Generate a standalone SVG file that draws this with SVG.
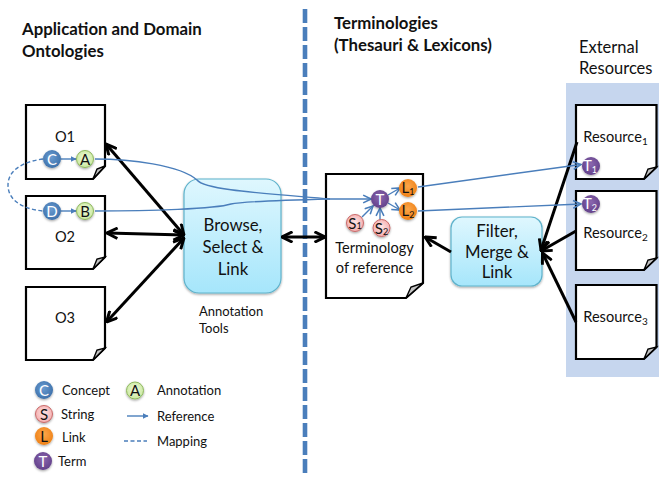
<svg xmlns="http://www.w3.org/2000/svg" width="659" height="479" viewBox="0 0 659 479">
<style>
text{font-family:Lato,"Liberation Sans",sans-serif;fill:#111}
.h{font-size:16.8px;font-weight:700}
.n{font-size:14.6px;text-anchor:middle}
.b{font-size:16.8px;text-anchor:middle}
.l{font-size:13px}
.c{font-size:15px;text-anchor:middle}
.w{fill:#fff}
.doc{fill:#fff;stroke:#000;stroke-width:2.2}
.fold{fill:#c4c4c4;stroke:#000;stroke-width:1.4}
.box{stroke:#5fb3cc;stroke-width:1.2;filter:url(#sh)}
.k{fill:none;stroke:#000;stroke-width:3;marker-start:url(#ka);marker-end:url(#ka)}
.k1{fill:none;stroke:#000;stroke-width:3;marker-end:url(#ka)}
.r{fill:none;stroke:#4a7ebb;stroke-width:1.4}
.ra{marker-end:url(#ra)}
.rf{marker-end:url(#rf)}
.m{fill:none;stroke:#4a7ebb;stroke-width:1.4;stroke-dasharray:4 2.5}
</style>
<defs>
<marker id="ka" viewBox="0 0 12 12" refX="11" refY="6" markerWidth="4.200" markerHeight="4.200" orient="auto-start-reverse" markerUnits="strokeWidth"><path d="M1 1L11 6L1 11" fill="none" stroke="#000" stroke-width="2.800"/></marker>
<marker id="ra" viewBox="0 0 10 10" refX="9" refY="5" markerWidth="7" markerHeight="7" orient="auto" markerUnits="strokeWidth"><path d="M1 1L9 5L1 9" fill="none" stroke="#4a7ebb" stroke-width="1.600"/></marker>
<marker id="rf" viewBox="0 0 10 10" refX="9" refY="5" markerWidth="4" markerHeight="4" orient="auto" markerUnits="strokeWidth"><path d="M0 0L10 5L0 10Z" fill="#4a7ebb"/></marker>
<linearGradient id="g" x1="0" y1="0" x2="0" y2="1"><stop offset="0" stop-color="#dff7fe"/><stop offset="1" stop-color="#a6e6fb"/></linearGradient>
<radialGradient id="gc" cx=".45" cy=".4" r=".65"><stop offset="0" stop-color="#6a9bd0"/><stop offset="1" stop-color="#3a6ea8"/></radialGradient>
<radialGradient id="ga" cx=".5" cy=".45" r=".6"><stop offset="0" stop-color="#f2fbdc"/><stop offset="1" stop-color="#c5e69a"/></radialGradient>
<radialGradient id="gs" cx=".5" cy=".45" r=".6"><stop offset="0" stop-color="#fde4e4"/><stop offset="1" stop-color="#f4a9a9"/></radialGradient>
<radialGradient id="gl" cx=".5" cy=".4" r=".65"><stop offset="0" stop-color="#fba64a"/><stop offset="1" stop-color="#ee7d11"/></radialGradient>
<radialGradient id="gt" cx=".5" cy=".4" r=".65"><stop offset="0" stop-color="#8a66ae"/><stop offset="1" stop-color="#5f3d87"/></radialGradient>
<filter id="sh" x="-30%" y="-30%" width="160%" height="160%"><feDropShadow dx="0" dy="1.200" stdDeviation="1" flood-color="#000" flood-opacity=".35"/></filter>
</defs>
<rect id="panel" x="566" y="83" width="93" height="294" fill="#c6d6ee"/>
<path id="divider" d="M305 9V476" fill="none" stroke="#4a7ebb" stroke-width="4.600" stroke-dasharray="14 4"/>
<text class="h" x="22" y="35">Application and Domain</text>
<text class="h" x="22" y="57">Ontologies</text>
<text class="h" x="334" y="29">Terminologies</text>
<text class="h" x="334" y="51">(Thesauri &amp; Lexicons)</text>
<text x="579" y="53" font-size="16.500">External</text>
<text x="579" y="74" font-size="16.500">Resources</text>

<g id="o1"><path class="doc" d="M26 105H105V166L93 179H26Z"/><path class="fold" d="M93 179L97 169L105 166Z"/><text class="n" x="65" y="142">O1</text></g>
<g id="o2"><path class="doc" d="M26 196H105V257L93 269H26Z"/><path class="fold" d="M93 269L97 259L105 257Z"/><text class="n" x="65" y="242">O2</text></g>
<g id="o3"><path class="doc" d="M26 287H105V348L93 360H26Z"/><path class="fold" d="M93 360L97 350L105 348Z"/><text class="n" x="65" y="323">O3</text></g>
<g id="browse"><rect class="box" x="184" y="179" width="97" height="114" rx="15" fill="url(#g)"/><text class="b" x="233" y="231">Browse,</text><text class="b" x="233" y="253">Select &amp;</text><text class="b" x="233" y="275">Link</text></g>
<text x="199" y="316" font-size="13">Annotation</text>
<text x="199" y="333" font-size="13">Tools</text>
<g id="terminology"><path class="doc" d="M326 174H423V283L406 298H326Z"/><path class="fold" d="M406 298L411 287L423 283Z"/><text class="n" x="374.500" y="253">Terminology</text><text class="n" x="374.500" y="273">of reference</text></g>
<g id="filter"><rect class="box" x="451" y="217" width="91" height="69" rx="11" fill="url(#g)"/><text class="b" x="497" y="237">Filter,</text><text class="b" x="497" y="257.500">Merge &amp;</text><text class="b" x="497" y="278">Link</text></g>
<g id="resource1"><path class="doc" d="M576 105H656.500V167L644 179H576Z"/><path class="fold" d="M644 179L648 169L656.500 167Z"/><text class="n" x="615.500" y="142">Resource<tspan font-size="10" dy="3">1</tspan></text></g>
<g id="resource2"><path class="doc" d="M576 191H656.500V258L644 270H576Z"/><path class="fold" d="M644 270L648 260L656.500 258Z"/><text class="n" x="615.500" y="238">Resource<tspan font-size="10" dy="3">2</tspan></text></g>
<g id="resource3"><path class="doc" d="M576 285H656.500V347L644 359H576Z"/><path class="fold" d="M644 359L648 349L656.500 347Z"/><text class="n" x="615.500" y="322">Resource<tspan font-size="10" dy="3">3</tspan></text></g>

<g id="connectors">
<path class="k" d="M106 144L184 235"/>
<path class="k" d="M107 233L184 235"/>
<path class="k" d="M106.500 322L184 238"/>
<path class="k" d="M282 237H325"/>
<path class="k1" d="M451 252L425 237"/>
<path class="k1" d="M577 142L541 250"/>
<path class="k1" d="M576 231L541 251"/>
<path class="k1" d="M576 322L542.500 253"/>
<path class="r" d="M95 159C130 159 180 165 197 180C205 190 260 193 330 199"/>
<path class="r" d="M95 211C150 211 215 209 231 204C240 202 290 200 330 199"/>
<path class="r ra" d="M330 199H371"/>
<path class="m" d="M43 159C20 162 8 172 8 185C8 200 22 209 43 211"/>
<path class="r rf" d="M61 159H76"/>
<path class="r rf" d="M61 211H76"/>
<path class="r ra" d="M362 217L373 206"/>
<path class="r ra" d="M380 220V208"/>
<path class="r ra" d="M388 195L400 188"/>
<path class="r ra" d="M388 203L400 210"/>
<path class="r ra" d="M418 187L581 164.500"/>
<path class="r ra" d="M418 211L581 204"/>
</g>

<g id="c"><circle cx="52" cy="159" r="9" fill="url(#gc)" filter="url(#sh)"/><text class="c w" x="52" y="164.500">C</text></g>
<g id="a"><circle cx="85" cy="159" r="8.500" fill="url(#ga)" stroke="#8fb85f" filter="url(#sh)"/><text class="c" x="85" y="164.500">A</text></g>
<g id="d"><circle cx="52" cy="211" r="9" fill="url(#gc)" filter="url(#sh)"/><text class="c w" x="52" y="216.500">D</text></g>
<g id="b"><circle cx="85" cy="211" r="8.500" fill="url(#ga)" stroke="#8fb85f" filter="url(#sh)"/><text class="c" x="85" y="216.500">B</text></g>
<g id="t"><circle cx="380" cy="199" r="9" fill="url(#gt)" filter="url(#sh)"/><text class="c w" x="380" y="204.500">T</text></g>
<g id="l1"><circle cx="408" cy="188" r="9" fill="url(#gl)" filter="url(#sh)"/><text class="c" x="408" y="193">L<tspan font-size="9" dy="2">1</tspan></text></g>
<g id="l2"><circle cx="408" cy="211" r="9" fill="url(#gl)" filter="url(#sh)"/><text class="c" x="408" y="216">L<tspan font-size="9" dy="2">2</tspan></text></g>
<g id="s1"><circle cx="355" cy="223" r="8.500" fill="url(#gs)" stroke="#c96a6a" filter="url(#sh)"/><text class="c" x="355" y="228.500">S<tspan font-size="9" dy="0">1</tspan></text></g>
<g id="s2"><circle cx="381.500" cy="228" r="8.500" fill="url(#gs)" stroke="#c96a6a" filter="url(#sh)"/><text class="c" x="381.500" y="233.500">S<tspan font-size="9" dy="1">2</tspan></text></g>
<g id="t1"><circle cx="591" cy="166" r="9" fill="url(#gt)" filter="url(#sh)"/><text class="c w" x="590" y="171">T<tspan font-size="9" dy="2">1</tspan></text></g>
<g id="t2"><circle cx="591" cy="204" r="9" fill="url(#gt)" filter="url(#sh)"/><text class="c w" x="590" y="209">T<tspan font-size="9" dy="2">2</tspan></text></g>

<g id="legend">
<g id="lc"><circle cx="44" cy="390" r="9" fill="url(#gc)" filter="url(#sh)"/><text class="c w" x="44" y="395.500">C</text><text class="l" x="62" y="395">Concept</text></g>
<g id="la"><circle cx="135" cy="390.500" r="8.500" fill="url(#ga)" stroke="#8fb85f" filter="url(#sh)"/><text class="c" x="135" y="396">A</text><text class="l" x="157" y="395">Annotation</text></g>
<g id="ls"><circle cx="44" cy="414" r="8.500" fill="url(#gs)" stroke="#c96a6a" filter="url(#sh)"/><text class="c" x="44" y="419.500">S</text><text class="l" x="61" y="419">String</text></g>
<g id="lr"><path class="r rf" d="M127 416H148"/><text class="l" x="157" y="421">Reference</text></g>
<g id="ll"><circle cx="44" cy="436" r="9" fill="url(#gl)" filter="url(#sh)"/><text class="c" x="44" y="441.500">L</text><text class="l" x="62" y="442">Link</text></g>
<g id="lm"><path class="m" d="M124 441H147"/><text class="l" x="157" y="446">Mapping</text></g>
<g id="lt"><circle cx="43" cy="461" r="9" fill="url(#gt)" filter="url(#sh)"/><text class="c w" x="43" y="466.500">T</text><text class="l" x="58" y="466">Term</text></g>
</g>
</svg>
